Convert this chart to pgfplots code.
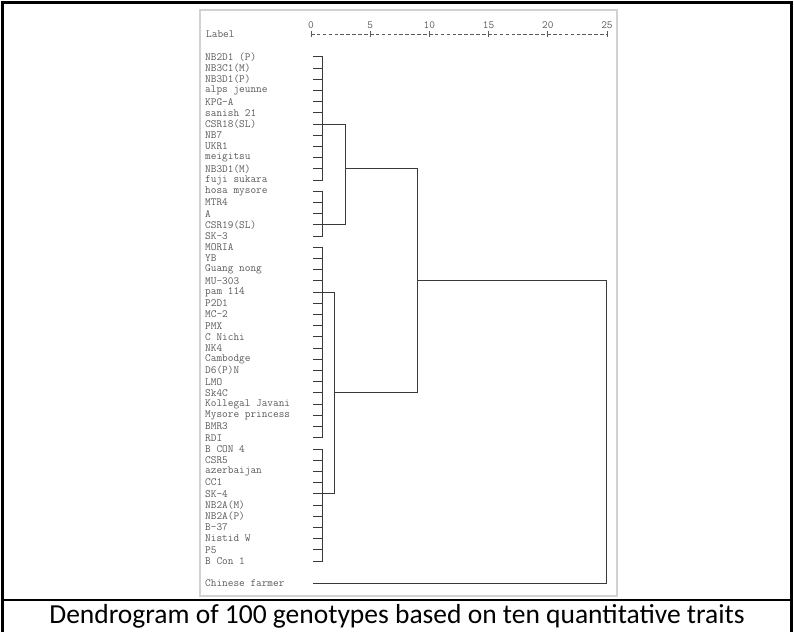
\documentclass[border=0pt]{standalone}
\usepackage{pgfplots}
\pgfplotsset{compat=1.18}
\usepackage{fontspec}
\setmainfont{Carlito}
\newcommand{\monof}{\ttfamily}
\definecolor{lab}{HTML}{5A5A5A}
\definecolor{ln}{HTML}{3A3A3A}
\definecolor{frm}{HTML}{D2D2D2}
\begin{document}
\begin{tikzpicture}
\begin{axis}[
  scale only axis, width=296pt, height=549.4pt,
  xmin=0, xmax=25, ymin=-48, ymax=1.054,
  clip=false,
  axis x line*=top,
  axis y line*=left,
  axis line style={-},
  every outer x axis line/.append style={-},
  every outer y axis line/.append style={-},
  y axis line style={draw=none},
  x axis line style={lab, line width=0.8pt, dash pattern=on 3.6pt off 2.3pt},
  xtick={0,5,10,15,20,25},
  xticklabels={0,5,10,15,20,25},
  xtick style={lab, line width=0.8pt},
  tick align=center,
  major tick length=6pt,
  ytick={-48,-46,-45,-44,-43,-42,-41,-40,-39,-38,-37,-36,-35,-34,-33,-32,-31,-30,-29,-28,-27,-26,-25,-24,-23,-22,-21,-20,-19,-18,-17,-16,-15,-14,-13,-12,-11,-10,-9,-8,-7,-6,-5,-4,-3,-2,-1},
  yticklabels={Chinese farmer,B Con 1,P5,Nistid W,B-37,NB2A(P),NB2A(M),SK-4,CC1,azerbaijan,CSR5,B CON 4,RDI,BMR3,Mysore princess,Kollegal Javani,Sk4C,LMO,D6(P)N,Cambodge,NK4,C Nichi,PMX,MC-2,P2D1,pam 114,MU-303,Guang nong,YB,MORIA,SK-3,CSR19(SL),A,MTR4,hosa mysore,fuji sukara,NB3D1(M),meigitsu,UKR1,NB7,CSR18(SL),sanish 21,KPG-A,alps jeunne,NB3D1(P),NB3C1(M),NB2D1 (P)},
  ytick style={draw=none},
  tick label style={font=\monof\fontsize{11}{12}\selectfont, text=lab},
  xticklabel style={yshift=-1pt},
  yticklabel style={anchor=west, inner sep=0pt, xshift=-103pt},
  unbounded coords=jump,
]
% picture extent (px 0..794 x 0..632 mapped to axis units)
\path (-26.267,4.089) rectangle (40.794,-52.339);
% frames
\draw[frm, line width=1.5pt] (-9.375,3.196) rectangle (25.845,-49.125);
\draw[black, line width=2.5pt] (-26.056,-52.339) -- (-26.056,3.866) -- (40.583,3.866) -- (40.583,-52.339);
\draw[black, line width=2.5pt] (-26.056,-49.482) -- (40.583,-49.482);
\node[font=\monof\fontsize{11}{12}\selectfont, text=lab, anchor=west, inner sep=0pt] at (-8.868,1.054) {Label};
\node[font=\fontsize{27.5}{30}\selectfont, anchor=base, inner sep=0pt] at (7.264,-51.536) {Dendrogram of 100 genotypes based on ten quantitative traits};
% leaf stubs
\addplot[ln, line width=1pt, mark=none] coordinates {
(0.2,-1)(1,-1)(0,nan) (0.2,-2)(1,-2)(0,nan) (0.2,-3)(1,-3)(0,nan) (0.2,-4)(1,-4)(0,nan)
(0.2,-5)(1,-5)(0,nan) (0.2,-6)(1,-6)(0,nan) (0.2,-7)(1,-7)(0,nan) (0.2,-8)(1,-8)(0,nan)
(0.2,-9)(1,-9)(0,nan) (0.2,-10)(1,-10)(0,nan) (0.2,-11)(1,-11)(0,nan) (0.2,-12)(1,-12)(0,nan)
(0.2,-13)(1,-13)(0,nan) (0.2,-14)(1,-14)(0,nan) (0.2,-15)(1,-15)(0,nan) (0.2,-16)(1,-16)(0,nan)
(0.2,-17)(1,-17)(0,nan) (0.2,-18)(1,-18)(0,nan) (0.2,-19)(1,-19)(0,nan) (0.2,-20)(1,-20)(0,nan)
(0.2,-21)(1,-21)(0,nan) (0.2,-22)(1,-22)(0,nan) (0.2,-23)(1,-23)(0,nan) (0.2,-24)(1,-24)(0,nan)
(0.2,-25)(1,-25)(0,nan) (0.2,-26)(1,-26)(0,nan) (0.2,-27)(1,-27)(0,nan) (0.2,-28)(1,-28)(0,nan)
(0.2,-29)(1,-29)(0,nan) (0.2,-30)(1,-30)(0,nan) (0.2,-31)(1,-31)(0,nan) (0.2,-32)(1,-32)(0,nan)
(0.2,-33)(1,-33)(0,nan) (0.2,-34)(1,-34)(0,nan) (0.2,-35)(1,-35)(0,nan) (0.2,-36)(1,-36)(0,nan)
(0.2,-37)(1,-37)(0,nan) (0.2,-38)(1,-38)(0,nan) (0.2,-39)(1,-39)(0,nan) (0.2,-40)(1,-40)(0,nan)
(0.2,-41)(1,-41)(0,nan) (0.2,-42)(1,-42)(0,nan) (0.2,-43)(1,-43)(0,nan) (0.2,-44)(1,-44)(0,nan)
(0.2,-45)(1,-45)(0,nan) (0.2,-46)(1,-46)
};
% first-level clusters (verticals at distance 1)
\addplot[ln, line width=1pt, mark=none] coordinates {
(1,-1)(1,-12)(0,nan) (1,-13)(1,-17)(0,nan) (1,-18)(1,-35)(0,nan) (1,-36)(1,-46)
};
% joins
\addplot[ln, line width=1pt, mark=none] coordinates {
(1,-7)(2.95,-7)(2.95,-16)(1,-16)(0,nan)
(1,-22)(1.95,-22)(1.95,-40)(1,-40)(0,nan)
(2.95,-11)(9,-11)(9,-31)(1.95,-31)(0,nan)
(9,-21)(25,-21)(25,-48)(0.2,-48)
};
\end{axis}
\end{tikzpicture}
\end{document}
